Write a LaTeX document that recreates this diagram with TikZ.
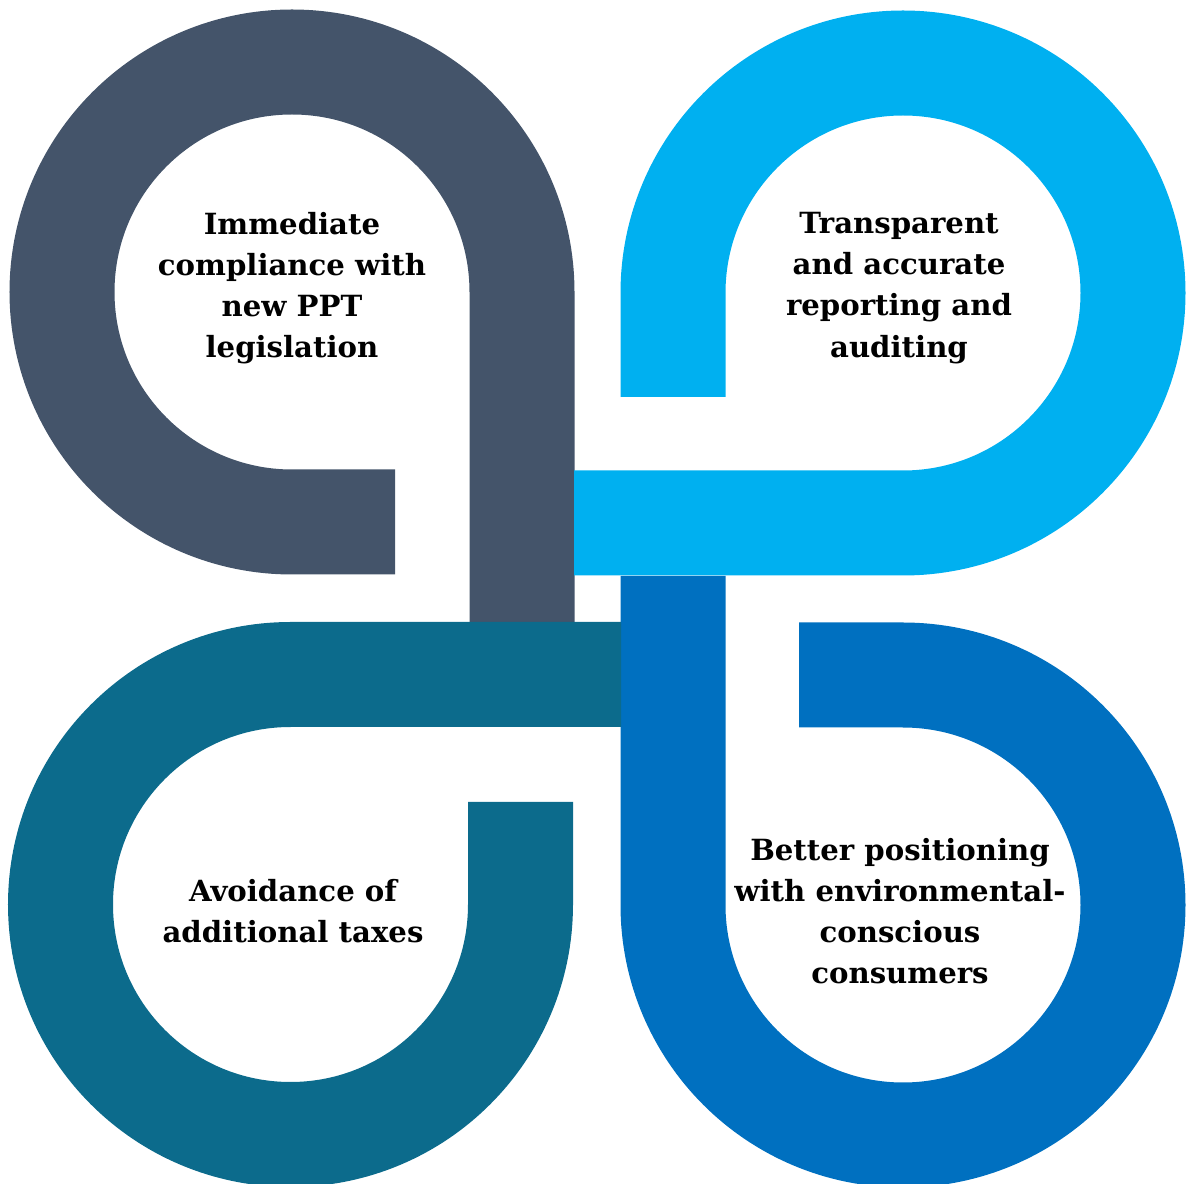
\documentclass[tikz,border=0pt]{standalone}
\usepackage{fontspec}
\setmainfont{DejaVu Serif}

\definecolor{slate}{HTML}{44546A}
\definecolor{sky}{HTML}{00B0F0}
\definecolor{ocean}{HTML}{0070C0}
\definecolor{teal}{HTML}{0C6B8C}

\tikzset{
  band/.style={line width=1.05cm, line cap=butt, line join=miter},
  label/.style={align=center, font=\fontsize{8.3pt}{11.7pt}\selectfont\bfseries, text=black}
}

\begin{document}
\begin{tikzpicture}
                \useasboundingbox (0,0) rectangle (11.89,11.83);

                % the four loops
                \draw[band, slate] (3.95,6.61) -- (2.92,6.61) arc (-90:-360:2.30) -- (5.22,5.61);
                \draw[band, sky] (6.73,7.86) -- (6.73,8.90) arc (180:-90:2.30) -- (5.74,6.60);
                \draw[band, ocean] (7.99,5.08) -- (9.03,5.08) arc (90:-180:2.30) -- (6.73,6.07);
                \draw[band, teal] (5.205,3.81) -- (5.205,2.785) arc (0:-270:2.30) -- (6.21,5.085);

                % texts inside the loops
                \node[label] (tl) at (2.92,8.95) {Immediate\\compliance with\\new PPT\\legislation};
                \node[label] (tr) at (8.99,8.95) {Transparent\\and accurate\\reporting and\\auditing};
                \node[label] (br) at (9.00,2.72) {Better positioning\\with environmental-\\conscious\\consumers};
                \node[label] (bl) at (2.93,2.72) {Avoidance of\\additional taxes};
            \end{tikzpicture}
\end{document}
